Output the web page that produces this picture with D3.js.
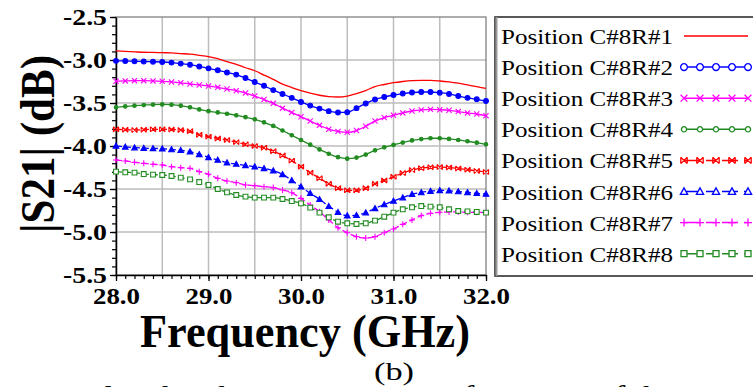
<!DOCTYPE html>
<html>
<head>
<meta charset="utf-8">
<script src="https://cdn.jsdelivr.net/npm/d3@7"></script>
<style>
  body { margin: 0; background: #fff; }
  svg { display: block; }
  text { font-stretch: condensed; }
</style>
</head>
<body>
<svg id="chart" width="753" height="387"></svg>
<script>
// frequency points (GHz)
const freq = [28.0, 28.1, 28.2, 28.3, 28.4, 28.5, 28.6, 28.7, 28.8, 28.9,
              29.0, 29.1, 29.2, 29.3, 29.4, 29.5, 29.6, 29.7, 29.8, 29.9,
              30.0, 30.1, 30.2, 30.3, 30.4, 30.5, 30.6, 30.7, 30.8, 30.9,
              31.0, 31.1, 31.2, 31.3, 31.4, 31.5, 31.6, 31.7, 31.8, 31.9, 32.0];

// |S21| in dB
const s21_r1 = [-2.895, -2.90, -2.905, -2.91, -2.912, -2.915, -2.918, -2.925, -2.932, -2.945,
                -2.96, -2.985, -3.02, -3.05, -3.09, -3.125, -3.175, -3.225, -3.28, -3.32,
                -3.355, -3.385, -3.41, -3.425, -3.43, -3.42, -3.39, -3.355, -3.31, -3.285,
                -3.264, -3.25, -3.24, -3.236, -3.237, -3.244, -3.255, -3.27, -3.29, -3.31, -3.33];
const s21_r2 = [-3.01, -3.012, -3.015, -3.018, -3.02, -3.023, -3.03, -3.042, -3.055, -3.075,
                -3.097, -3.12, -3.145, -3.17, -3.21, -3.256, -3.30, -3.35, -3.395, -3.44,
                -3.488, -3.53, -3.565, -3.595, -3.61, -3.608, -3.56, -3.505, -3.46, -3.43,
                -3.407, -3.39, -3.378, -3.372, -3.372, -3.38, -3.395, -3.419, -3.44, -3.457, -3.477];
const s21_r3 = [-3.248, -3.243, -3.24, -3.24, -3.243, -3.248, -3.255, -3.265, -3.279, -3.29,
                -3.302, -3.318, -3.338, -3.357, -3.385, -3.419, -3.46, -3.504, -3.56, -3.61,
                -3.659, -3.71, -3.76, -3.805, -3.83, -3.841, -3.82, -3.77, -3.71, -3.67,
                -3.643, -3.615, -3.593, -3.58, -3.574, -3.578, -3.585, -3.60, -3.615, -3.628, -3.647];
const s21_r4 = [-3.55, -3.54, -3.531, -3.524, -3.518, -3.516, -3.52, -3.531, -3.55, -3.575,
                -3.595, -3.61, -3.625, -3.643, -3.665, -3.69, -3.725, -3.767, -3.82, -3.875,
                -3.93, -3.985, -4.04, -4.09, -4.13, -4.147, -4.135, -4.10, -4.05, -4.015,
                -3.988, -3.96, -3.935, -3.92, -3.91, -3.91, -3.918, -3.93, -3.945, -3.961, -3.98];
const s21_r5 = [-3.806, -3.81, -3.814, -3.81, -3.806, -3.806, -3.808, -3.815, -3.828, -3.87,
                -3.891, -3.912, -3.93, -3.955, -3.98, -4.0, -4.02, -4.06, -4.11, -4.17,
                -4.24, -4.31, -4.375, -4.44, -4.49, -4.515, -4.515, -4.49, -4.44, -4.40,
                -4.357, -4.315, -4.28, -4.258, -4.248, -4.245, -4.25, -4.262, -4.275, -4.29, -4.302];
const s21_r6 = [-4.0, -4.01, -4.019, -4.025, -4.028, -4.031, -4.04, -4.05, -4.066, -4.097,
                -4.132, -4.163, -4.194, -4.21, -4.225, -4.24, -4.26, -4.287, -4.33, -4.40,
                -4.473, -4.55, -4.62, -4.70, -4.77, -4.81, -4.805, -4.775, -4.725, -4.68,
                -4.64, -4.60, -4.56, -4.54, -4.525, -4.516, -4.52, -4.53, -4.539, -4.55, -4.558];
const s21_r7 = [-4.163, -4.174, -4.19, -4.202, -4.212, -4.221, -4.24, -4.252, -4.26, -4.298,
                -4.329, -4.376, -4.407, -4.426, -4.453, -4.461, -4.473, -4.484, -4.512, -4.543,
                -4.609, -4.686, -4.764, -4.86, -4.95, -5.008, -5.054, -5.07, -5.054, -5.008,
                -4.965, -4.911, -4.86, -4.81, -4.783, -4.771, -4.767, -4.767, -4.771, -4.771, -4.775];
const s21_r8 = [-4.298, -4.306, -4.31, -4.326, -4.333, -4.337, -4.349, -4.368, -4.388, -4.419,
                -4.453, -4.50, -4.539, -4.57, -4.589, -4.60, -4.60, -4.60, -4.616, -4.64,
                -4.667, -4.717, -4.775, -4.829, -4.88, -4.899, -4.907, -4.899, -4.868, -4.822,
                -4.775, -4.736, -4.713, -4.698, -4.705, -4.713, -4.736, -4.756, -4.76, -4.767, -4.775];

const seriesNames = ["Position C#8R#1", "Position C#8R#2", "Position C#8R#3", "Position C#8R#4",
                     "Position C#8R#5", "Position C#8R#6", "Position C#8R#7", "Position C#8R#8"];
const xTicks = [28.0, 29.0, 30.0, 31.0, 32.0];
const yTicks = [-2.5, -3.0, -3.5, -4.0, -4.5, -5.0, -5.5];

// look of each series (kept apart from the values)
const series = [
  { name: seriesNames[0], values: s21_r1, color: "#ff0000", dash: null,  marker: null },
  { name: seriesNames[1], values: s21_r2, color: "#0000ff", dash: null,  marker: "circle" },
  { name: seriesNames[2], values: s21_r3, color: "#ff00ff", dash: null,  marker: "x" },
  { name: seriesNames[3], values: s21_r4, color: "#228b22", dash: null,  marker: "dot" },
  { name: seriesNames[4], values: s21_r5, color: "#ff0000", dash: "6,3", marker: "bowx" },
  { name: seriesNames[5], values: s21_r6, color: "#0000ff", dash: "6,3", marker: "tri" },
  { name: seriesNames[6], values: s21_r7, color: "#ff00ff", dash: "6,3", marker: "plus" },
  { name: seriesNames[7], values: s21_r8, color: "#228b22", dash: "6,3", marker: "square" }
];

const FONT = "'Liberation Serif', Tinos, 'Times New Roman', 'DejaVu Serif', serif";
const plot = { left: 116, right: 486, top: 17, bottom: 275 };

const svg = d3.select("#chart");
const x = d3.scaleLinear().domain([28, 32]).range([plot.left, plot.right]);
const y = d3.scaleLinear().domain([-5.5, -2.5]).range([plot.bottom, plot.top]);

// grid every 0.5
const grid = svg.append("g");
grid.selectAll(".gx").data(d3.range(28.5, 32, 0.5)).enter().append("line")
  .attr("x1", d => x(d)).attr("x2", d => x(d))
  .attr("y1", plot.top).attr("y2", plot.bottom)
  .attr("stroke", "#bdbdbd").attr("stroke-width", 1.5);
grid.selectAll(".gy").data(d3.range(-5.0, -2.5, 0.5)).enter().append("line")
  .attr("x1", plot.left).attr("x2", plot.right)
  .attr("y1", d => y(d)).attr("y2", d => y(d))
  .attr("stroke", "#bdbdbd").attr("stroke-width", 1.5);

// frame
svg.append("rect")
  .attr("x", plot.left).attr("y", plot.top)
  .attr("width", plot.right - plot.left).attr("height", plot.bottom - plot.top)
  .attr("fill", "none").attr("stroke", "#777").attr("stroke-width", 1.2);

// minor ticks (no labels)
const minorX = d3.range(0, 41).map(i => 28 + i * 0.1);
const minorY = d3.range(0, 31).map(i => -5.5 + i * 0.1);
svg.append("g").attr("transform", `translate(0,${plot.bottom})`)
  .call(d3.axisBottom(x).tickValues(minorX).tickSize(4).tickFormat(""))
  .call(g => g.select(".domain").remove())
  .call(g => g.selectAll("text").remove())
  .selectAll("line").attr("stroke", "#000").attr("stroke-width", 1.2);
svg.append("g").attr("transform", `translate(${plot.left},0)`)
  .call(d3.axisLeft(y).tickValues(minorY).tickSize(4).tickFormat(""))
  .call(g => g.select(".domain").remove())
  .call(g => g.selectAll("text").remove())
  .selectAll("line").attr("stroke", "#000").attr("stroke-width", 1.2);

// major axes
const xAxis = svg.append("g").attr("transform", `translate(0,${plot.bottom})`)
  .call(d3.axisBottom(x).tickValues(xTicks).tickSize(6).tickPadding(7).tickSizeOuter(0)
        .tickFormat(d => d.toFixed(1)));
const yAxis = svg.append("g").attr("transform", `translate(${plot.left},0)`)
  .call(d3.axisLeft(y).tickValues(yTicks).tickSize(6).tickPadding(3).tickSizeOuter(0)
        .tickFormat(d => d.toFixed(1)));
[xAxis, yAxis].forEach(g => {
  g.select(".domain").attr("stroke", "#000").attr("stroke-width", 1.5);
  g.selectAll(".tick line").attr("stroke", "#000").attr("stroke-width", 1.3);
  g.selectAll(".tick text")
    .attr("fill", "#000")
    .attr("lengthAdjust", "spacingAndGlyphs")
    .style("font-family", FONT).style("font-weight", "bold").style("font-size", "23px");
});
xAxis.selectAll(".tick text").attr("textLength", 47);
yAxis.selectAll(".tick text").attr("textLength", 44);

// marker shapes
function markerPath(type, s) {
  switch (type) {
    case "circle":
    case "dot": return `M${s},0A${s},${s} 0 1,1 ${-s},0A${s},${s} 0 1,1 ${s},0Z`;
    case "x": return `M${-s},${-s}L${s},${s}M${-s},${s}L${s},${-s}`;
    case "bowx": return `M${-s},${-s}L${s},${s}M${-s},${s}L${s},${-s}M${-s},${-s}V${s}M${s},${-s}V${s}`;
    case "tri": return `M0,${-s}L${s},${s * 0.8}L${-s},${s * 0.8}Z`;
    case "plus": return `M${-s},0H${s}M0,${-s}V${s}`;
    case "square": return `M${-s},${-s}H${s}V${s}H${-s}Z`;
  }
  return "";
}
const closedShape = t => ["circle", "dot", "tri", "square"].includes(t);
const plotSize = { circle: 2.4, dot: 1.8, x: 2.6, bowx: 2.6, tri: 2.8, plus: 3.0, square: 2.4 };
const legendSize = { circle: 3.4, dot: 2.6, x: 3.4, bowx: 3.2, tri: 3.6, plus: 4.0, square: 3.0 };

// curves
const line = d3.line()
  .x((d, i) => x(freq[i]))
  .y(d => y(d))
  .curve(d3.curveMonotoneX);

const curves = svg.append("g");
series.forEach(s => {
  curves.append("path")
    .datum(s.values)
    .attr("d", line)
    .attr("fill", "none")
    .attr("stroke", s.color)
    .attr("stroke-width", 1.3)
    .attr("stroke-dasharray", s.dash);
  if (!s.marker) return;
  curves.append("g").selectAll("path")
    .data(s.values)
    .enter().append("path")
    .attr("transform", (d, i) => `translate(${x(freq[i])},${y(d)})`)
    .attr("d", markerPath(s.marker, plotSize[s.marker]))
    .attr("fill", closedShape(s.marker) ? (s.marker === "square" ? "#fff" : s.color) : "none")
    .attr("stroke", s.color)
    .attr("stroke-width", 1.1);
});

// legend
const legend = svg.append("g");
legend.append("rect")
  .attr("x", 495).attr("y", 17).attr("width", 270).attr("height", 259)
  .attr("fill", "#fff").attr("stroke", "#222").attr("stroke-width", 1.5);
legend.append("line")
  .attr("x1", 496.5).attr("x2", 496.5).attr("y1", 17).attr("y2", 276)
  .attr("stroke", "#999").attr("stroke-width", 2);

const sampleX = [684, 700, 716, 732, 748];
series.forEach((s, i) => {
  const base = 44 + i * 31.1;
  legend.append("text")
    .attr("x", 501).attr("y", base)
    .attr("textLength", 172).attr("lengthAdjust", "spacingAndGlyphs")
    .style("font-family", FONT).style("font-size", "21px")
    .attr("fill", "#000")
    .text(s.name);
  const ly = base - 8;
  legend.append("line")
    .attr("x1", sampleX[0]).attr("x2", sampleX[sampleX.length - 1])
    .attr("y1", ly).attr("y2", ly)
    .attr("stroke", s.color).attr("stroke-width", 1.5)
    .attr("stroke-dasharray", s.dash ? "16,6,10,6" : null);
  if (!s.marker) return;
  legend.append("g").selectAll("path")
    .data(sampleX)
    .enter().append("path")
    .attr("transform", d => `translate(${d},${ly})`)
    .attr("d", markerPath(s.marker, legendSize[s.marker]))
    .attr("fill", closedShape(s.marker) ? "#fff" : "none")
    .attr("stroke", s.color)
    .attr("stroke-width", 1.3);
});

// axis titles
svg.append("text")
  .attr("x", 305).attr("y", 347)
  .attr("text-anchor", "middle")
  .attr("textLength", 330).attr("lengthAdjust", "spacingAndGlyphs")
  .style("font-family", FONT).style("font-weight", "bold").style("font-size", "46px")
  .text("Frequency (GHz)");

svg.append("text")
  .attr("transform", "translate(54,144) rotate(-90)")
  .attr("text-anchor", "middle")
  .attr("textLength", 178).attr("lengthAdjust", "spacingAndGlyphs")
  .style("font-family", FONT).style("font-weight", "bold").style("font-size", "48px")
  .text("|S21| (dB)");

// sub-caption and the clipped line of the figure caption below
svg.append("text")
  .attr("x", 394).attr("y", 380)
  .attr("text-anchor", "middle")
  .attr("textLength", 40).attr("lengthAdjust", "spacingAndGlyphs")
  .style("font-family", FONT).style("font-size", "25px")
  .text("(b)");
svg.append("text")
  .attr("x", 760).attr("y", 406)
  .attr("text-anchor", "end")
  .attr("textLength", 720).attr("lengthAdjust", "spacingAndGlyphs")
  .style("font-family", FONT).style("font-size", "30px")
  .text("simulated and S-Parameters performance of the 8×8 1");
</script>
</body>
</html>
